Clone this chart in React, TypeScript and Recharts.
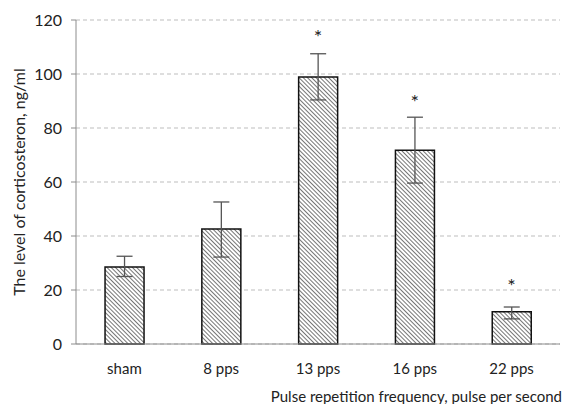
import { ComposedChart, Bar, ErrorBar, Scatter, XAxis, YAxis, CartesianGrid, Label } from 'recharts';

const groups = ['sham', '8 pps', '13 pps', '16 pps', '22 pps'];
const levels = [28.5, 42.6, 98.9, 71.8, 11.9];
// [below, above] error amounts
const errors: [number, number][] = [
  [3.5, 4.0],
  [10.4, 10.0],
  [8.5, 8.6],
  [12.2, 12.2],
  [2.6, 1.8],
];
const stars = [null, null, 115, 90.7, 22.6];
const yTicks = [0, 20, 40, 60, 80, 100, 120];
const xTitle = 'Pulse repetition frequency, pulse per second';
const yTitle = 'The level of corticosteron, ng/ml';

const data = groups.map((g, i) => ({
  group: g,
  level: levels[i],
  err: errors[i],
  star: stars[i],
}));

const font = 'Lato, "Open Sans", sans-serif';

function Star(props: any) {
  const { cx, cy, payload } = props;
  if (payload.star == null) return null;
  return (
    <text x={cx} y={cy + 10} textAnchor="middle" fontSize={20} fill="#222" fontFamily={font}>
      *
    </text>
  );
}

function XTitle(props: any) {
  const { x, y, width, height } = props.viewBox;
  return (
    <text x={x + width + 2} y={y + height - 2} textAnchor="end" fontSize={15} fill="#222" fontFamily={font}>
      {xTitle}
    </text>
  );
}

export default function App() {
  return (
    <ComposedChart
      width={564}
      height={396}
      data={data}
      margin={{ top: 12, right: 12, bottom: 0, left: 0 }}
      barCategoryGap="30%"
      style={{ fontFamily: font }}
    >
      <defs>
        <pattern id="hatch" patternUnits="userSpaceOnUse" width="3" height="3" patternTransform="rotate(-45)">
          <rect width="3" height="3" fill="#fff" />
          <line x1="0" y1="0" x2="0" y2="3" stroke="#3a3a3a" strokeWidth="1.4" />
        </pattern>
      </defs>
      <CartesianGrid vertical={false} stroke="#bdbdbd" strokeDasharray="4 3" />
      <XAxis
        dataKey="group"
        height={60}
        axisLine={{ stroke: '#8c8c8c' }}
        tickLine={false}
        tickMargin={13}
        tick={{ fill: '#222', fontSize: 15 }}
      >
        <Label content={XTitle} />
      </XAxis>
      <YAxis
        width={68}
        domain={[0, 120]}
        ticks={yTicks}
        axisLine={{ stroke: '#8c8c8c' }}
        tickLine={{ stroke: '#8c8c8c' }}
        tickSize={5}
        tickMargin={9}
        tick={{ fill: '#222', fontSize: 16 }}
        label={{ value: yTitle, angle: -90, position: 'insideLeft', offset: 11, fill: '#222', fontSize: 16, style: { textAnchor: 'middle' } }}
      />
      <Bar dataKey="level" fill="url(#hatch)" stroke="#111" strokeWidth={1.5} isAnimationActive={false}>
        <ErrorBar dataKey="err" width={8} stroke="#555" strokeWidth={1.3} direction="y" />
      </Bar>
      <Scatter dataKey="star" shape={Star} isAnimationActive={false} />
    </ComposedChart>
  );
}
